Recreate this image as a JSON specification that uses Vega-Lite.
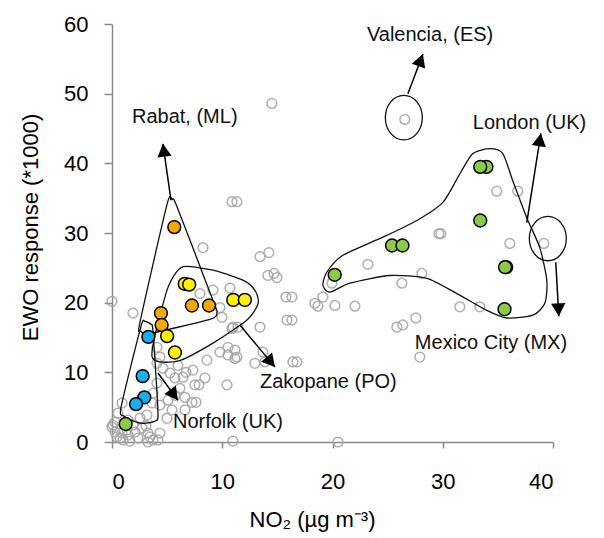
{
  "$schema": "https://vega.github.io/schema/vega-lite/v6.json",
  "width": 441,
  "height": 418,
  "autosize": {"type": "none"},
  "padding": {"left": 112, "top": 24, "right": 51, "bottom": 96},
  "background": "white",
  "config": {
    "view": {"stroke": null},
    "axis": {
      "grid": false,
      "domainColor": "#8a8a8a",
      "tickColor": "#8a8a8a",
      "domainWidth": 1.5,
      "tickWidth": 1.5,
      "labelFont": "Liberation Sans",
      "titleFont": "Liberation Sans",
      "labelColor": "#000000",
      "titleColor": "#000000",
      "labelFontSize": 22,
      "titleFontSize": 22,
      "titleFontWeight": "normal"
    }
  },
  "datasets": {
    "gray": [
      {"x": 0.0, "y": 20.2}, {"x": 14.5, "y": 48.6}, {"x": 26.56, "y": 46.3},
      {"x": 10.88, "y": 34.5}, {"x": 11.33, "y": 34.5}, {"x": 8.25, "y": 27.9}, {"x": 13.42, "y": 26.6}, {"x": 14.23, "y": 27.2},
      {"x": 14.14, "y": 23.9}, {"x": 14.69, "y": 24.2}, {"x": 14.96, "y": 23.6},
      {"x": 15.78, "y": 20.8}, {"x": 16.32, "y": 20.8}, {"x": 15.87, "y": 17.5}, {"x": 16.32, "y": 17.5},
      {"x": 9.97, "y": 17.9}, {"x": 9.16, "y": 21.8}, {"x": 10.7, "y": 22.1}, {"x": 7.98, "y": 21.3}, {"x": 9.79, "y": 19.3},
      {"x": 10.97, "y": 16.5}, {"x": 13.42, "y": 16.5}, {"x": 10.88, "y": 16.3}, {"x": 11.42, "y": 16.5},
      {"x": 9.79, "y": 12.9}, {"x": 10.52, "y": 12.5}, {"x": 11.33, "y": 12.2}, {"x": 11.15, "y": 13.2}, {"x": 10.52, "y": 13.6}, {"x": 11.15, "y": 12.0},
      {"x": 8.61, "y": 11.75}, {"x": 7.34, "y": 10.3}, {"x": 13.87, "y": 11.5}, {"x": 16.77, "y": 11.5}, {"x": 16.41, "y": 11.5}, {"x": 13.69, "y": 12.9}, {"x": 12.96, "y": 11.3},
      {"x": 27.92, "y": 12.2},
      {"x": 18.4, "y": 19.9}, {"x": 19.13, "y": 20.8}, {"x": 20.22, "y": 19.6}, {"x": 22.03, "y": 19.5}, {"x": 19.95, "y": 22.8}, {"x": 18.68, "y": 19.5},
      {"x": 23.21, "y": 25.5}, {"x": 26.29, "y": 22.8}, {"x": 28.1, "y": 24.2}, {"x": 29.65, "y": 29.9}, {"x": 29.83, "y": 29.9},
      {"x": 34.9, "y": 36.0}, {"x": 36.8, "y": 36.0}, {"x": 36.08, "y": 28.5}, {"x": 39.17, "y": 28.5},
      {"x": 31.55, "y": 19.4}, {"x": 33.36, "y": 19.4}, {"x": 27.56, "y": 17.8}, {"x": 25.84, "y": 16.5}, {"x": 26.38, "y": 16.8},
      {"x": 20.5, "y": 0.0}, {"x": 10.97, "y": 0.14},
      {"x": 4.62, "y": 10.6}, {"x": 5.26, "y": 9.9}, {"x": 5.71, "y": 9.2}, {"x": 6.44, "y": 9.3}, {"x": 7.52, "y": 8.2}, {"x": 7.89, "y": 8.2}, {"x": 10.43, "y": 8.2},
      {"x": 6.16, "y": 7.7}, {"x": 6.62, "y": 6.4}, {"x": 7.25, "y": 5.7}, {"x": 7.62, "y": 5.7}, {"x": 5.44, "y": 4.6}, {"x": 4.99, "y": 3.4},
      {"x": 0.91, "y": 5.6}, {"x": 0.54, "y": 4.15}, {"x": 0.27, "y": 2.87}, {"x": 0.0, "y": 2.15}, {"x": 0.27, "y": 1.43}, {"x": 0.91, "y": 1.29},
      {"x": 1.45, "y": 1.0}, {"x": 2.09, "y": 1.43}, {"x": 2.72, "y": 2.0}, {"x": 3.08, "y": 2.3}, {"x": 2.36, "y": 0.57}, {"x": 1.0, "y": 0.29},
      {"x": 3.72, "y": 0.29}, {"x": 4.17, "y": 0.29}, {"x": 3.26, "y": 1.29}, {"x": 1.9, "y": 2.44}, {"x": 0.45, "y": 0.72}, {"x": 1.63, "y": 0.14}, {"x": 3.26, "y": 0.0},
      {"x": 4.08, "y": 11.3}, {"x": 4.08, "y": 8.45}, {"x": 3.72, "y": 7.0}, {"x": 3.63, "y": 5.6}, {"x": 3.17, "y": 3.87}, {"x": 0.09, "y": 2.44},
      {"x": 1.9, "y": 18.5}, {"x": 4.08, "y": 13.6},
      {"x": 4.35, "y": 12.2}, {"x": 5.98, "y": 11.0}, {"x": 6.71, "y": 10.0}, {"x": 8.43, "y": 9.2}, {"x": 5.71, "y": 6.7}, {"x": 5.08, "y": 6.0},
      {"x": 4.35, "y": 5.3}, {"x": 6.62, "y": 4.6},
      {"x": 1.45, "y": 3.15}, {"x": 2.54, "y": 3.44}, {"x": 3.45, "y": 0.72}, {"x": 4.35, "y": 1.29}, {"x": 1.36, "y": 1.72}, {"x": 0.73, "y": 0.57}
    ],
    "colored": [
      {"grp": "orange", "x": 5.65, "y": 30.85}, {"grp": "orange", "x": 7.25, "y": 19.6}, {"grp": "orange", "x": 8.8, "y": 19.6},
      {"grp": "orange", "x": 4.44, "y": 18.5}, {"grp": "orange", "x": 4.5, "y": 16.8},
      {"grp": "yellow", "x": 6.6, "y": 22.7}, {"grp": "yellow", "x": 7.0, "y": 22.6}, {"grp": "yellow", "x": 11.0, "y": 20.4},
      {"grp": "yellow", "x": 12.05, "y": 20.4}, {"grp": "yellow", "x": 5.0, "y": 15.2}, {"grp": "yellow", "x": 5.71, "y": 12.85},
      {"grp": "blue", "x": 3.3, "y": 15.1}, {"grp": "blue", "x": 2.78, "y": 9.46}, {"grp": "blue", "x": 2.93, "y": 6.4}, {"grp": "blue", "x": 2.18, "y": 5.44},
      {"grp": "green", "x": 1.24, "y": 2.58}, {"grp": "green", "x": 20.2, "y": 24.0}, {"grp": "green", "x": 25.4, "y": 28.2}, {"grp": "green", "x": 26.35, "y": 28.2},
      {"grp": "green", "x": 33.96, "y": 39.5}, {"grp": "green", "x": 33.4, "y": 39.5}, {"grp": "green", "x": 33.4, "y": 31.8},
      {"grp": "green", "x": 35.75, "y": 25.1}, {"grp": "green", "x": 35.65, "y": 25.1}, {"grp": "green", "x": 35.6, "y": 19.05}
    ],
    "shapes": [
      {"shape": "rabat", "seq": 1, "x": 4.99, "y": 34.1}, {"shape": "rabat", "seq": 2, "x": 5.44, "y": 34.8}, {"shape": "rabat", "seq": 3, "x": 5.89, "y": 33.8},
      {"shape": "rabat", "seq": 4, "x": 9.16, "y": 20.3}, {"shape": "rabat", "seq": 5, "x": 9.52, "y": 18.6}, {"shape": "rabat", "seq": 6, "x": 8.88, "y": 17.6},
      {"shape": "rabat", "seq": 7, "x": 3.45, "y": 15.6}, {"shape": "rabat", "seq": 8, "x": 2.63, "y": 15.9}, {"shape": "rabat", "seq": 9, "x": 2.54, "y": 17.2},
      {"shape": "zakopane", "seq": 1, "x": 5.89, "y": 24.5}, {"shape": "zakopane", "seq": 2, "x": 6.71, "y": 25.2}, {"shape": "zakopane", "seq": 3, "x": 9.34, "y": 24.6},
      {"shape": "zakopane", "seq": 4, "x": 12.06, "y": 23.1}, {"shape": "zakopane", "seq": 5, "x": 13.06, "y": 21.5}, {"shape": "zakopane", "seq": 6, "x": 13.24, "y": 19.8},
      {"shape": "zakopane", "seq": 7, "x": 12.24, "y": 17.5}, {"shape": "zakopane", "seq": 8, "x": 9.16, "y": 14.2}, {"shape": "zakopane", "seq": 9, "x": 6.16, "y": 11.7},
      {"shape": "zakopane", "seq": 10, "x": 4.35, "y": 11.5}, {"shape": "zakopane", "seq": 11, "x": 3.63, "y": 12.3}, {"shape": "zakopane", "seq": 12, "x": 3.9, "y": 15.3},
      {"shape": "zakopane", "seq": 13, "x": 4.99, "y": 21.8},
      {"shape": "norfolk", "seq": 1, "x": 2.63, "y": 16.6}, {"shape": "norfolk", "seq": 2, "x": 2.99, "y": 17.3}, {"shape": "norfolk", "seq": 3, "x": 3.54, "y": 16.9},
      {"shape": "norfolk", "seq": 4, "x": 3.72, "y": 15.8}, {"shape": "norfolk", "seq": 5, "x": 4.17, "y": 4.3}, {"shape": "norfolk", "seq": 6, "x": 3.9, "y": 3.0},
      {"shape": "norfolk", "seq": 7, "x": 2.54, "y": 2.7}, {"shape": "norfolk", "seq": 8, "x": 1.09, "y": 3.7}, {"shape": "norfolk", "seq": 9, "x": 0.82, "y": 5.0},
      {"shape": "london", "seq": 1, "x": 19.13, "y": 22.5}, {"shape": "london", "seq": 2, "x": 19.49, "y": 24.4}, {"shape": "london", "seq": 3, "x": 20.94, "y": 26.8},
      {"shape": "london", "seq": 4, "x": 24.57, "y": 29.4}, {"shape": "london", "seq": 5, "x": 27.65, "y": 31.8}, {"shape": "london", "seq": 6, "x": 30.01, "y": 34.4},
      {"shape": "london", "seq": 7, "x": 31.55, "y": 38.5}, {"shape": "london", "seq": 8, "x": 32.73, "y": 41.4}, {"shape": "london", "seq": 9, "x": 34.27, "y": 42.1},
      {"shape": "london", "seq": 10, "x": 35.45, "y": 41.4}, {"shape": "london", "seq": 11, "x": 36.35, "y": 37.5}, {"shape": "london", "seq": 12, "x": 37.62, "y": 32.2},
      {"shape": "london", "seq": 13, "x": 38.8, "y": 27.9}, {"shape": "london", "seq": 14, "x": 39.44, "y": 23.2}, {"shape": "london", "seq": 15, "x": 39.26, "y": 19.9},
      {"shape": "london", "seq": 16, "x": 38.17, "y": 18.2}, {"shape": "london", "seq": 17, "x": 35.81, "y": 17.8}, {"shape": "london", "seq": 18, "x": 34.0, "y": 18.9},
      {"shape": "london", "seq": 19, "x": 31.28, "y": 21.3}, {"shape": "london", "seq": 20, "x": 28.56, "y": 23.5}, {"shape": "london", "seq": 21, "x": 25.2, "y": 23.9},
      {"shape": "london", "seq": 22, "x": 21.58, "y": 22.8}, {"shape": "london", "seq": 23, "x": 19.76, "y": 21.5}
    ],
    "ellipses": [
      {"name": "valencia", "x": 26.47, "y": 46.56},
      {"name": "outlier", "x": 39.53, "y": 29.2}
    ],
    "arrows": [
      {"arrow": "rabat", "seq": 1, "x": 5.35, "y": 34.7}, {"arrow": "rabat", "seq": 2, "x": 4.62, "y": 42.8},
      {"arrow": "valencia", "seq": 1, "x": 26.84, "y": 50.0}, {"arrow": "valencia", "seq": 2, "x": 28.2, "y": 55.7},
      {"arrow": "london", "seq": 1, "x": 37.62, "y": 31.5}, {"arrow": "london", "seq": 2, "x": 38.9, "y": 44.3},
      {"arrow": "mexico", "seq": 1, "x": 40.25, "y": 25.8}, {"arrow": "mexico", "seq": 2, "x": 40.53, "y": 18.05},
      {"arrow": "zakopane", "seq": 1, "x": 11.6, "y": 16.8}, {"arrow": "zakopane", "seq": 2, "x": 14.78, "y": 10.75},
      {"arrow": "norfolk", "seq": 1, "x": 4.17, "y": 9.9}, {"arrow": "norfolk", "seq": 2, "x": 5.98, "y": 6.0}
    ],
    "heads": [
      {"arrow": "rabat", "x": 4.62, "y": 42.8, "dir": -7},
      {"arrow": "valencia", "x": 28.2, "y": 55.7, "dir": 20},
      {"arrow": "london", "x": 38.9, "y": 44.3, "dir": 9},
      {"arrow": "mexico", "x": 40.53, "y": 18.05, "dir": 177},
      {"arrow": "zakopane", "x": 14.78, "y": 10.75, "dir": 140},
      {"arrow": "norfolk", "x": 5.98, "y": 6.0, "dir": 143}
    ],
    "labels": [
      {"label": "Valencia, (ES)", "x": 23.12, "y": 58.45},
      {"label": "Rabat, (ML)", "x": 1.81, "y": 46.6},
      {"label": "London (UK)", "x": 32.73, "y": 45.85},
      {"label": "Zakopane (PO)", "x": 13.42, "y": 8.6},
      {"label": "Norfolk (UK)", "x": 5.53, "y": 2.87},
      {"label": "Mexico City (MX)", "x": 27.47, "y": 14.18}
    ]
  },
  "encoding": {
    "x": {
      "field": "x", "type": "quantitative",
      "scale": {"domain": [0, 40], "nice": false, "zero": false},
      "axis": {"values": [0, 10, 20, 30, 40], "tickSize": 6, "labelPadding": 23, "title": "NO₂ (µg m⁻³)", "titleX": 200, "titleY": 77, "titleBaseline": "middle", "titleAlign": "center"}
    },
    "y": {
      "field": "y", "type": "quantitative",
      "scale": {"domain": [0, 60], "nice": false, "zero": false},
      "axis": {"values": [0, 10, 20, 30, 40, 50, 60], "tickSize": 8, "labelPadding": 16, "title": "EWO response (*1000)", "titleX": -82, "titleY": 203, "titleBaseline": "middle", "titleAlign": "center", "titleAngle": -90}
    }
  },
  "layer": [
    {
      "data": {"name": "gray"},
      "mark": {"type": "point", "shape": "circle", "filled": false, "stroke": "#a3a3a3", "strokeWidth": 1.5, "size": 95, "opacity": 0.85, "clip": false}
    },
    {
      "data": {"name": "shapes"},
      "mark": {"type": "line", "interpolate": "cardinal-closed", "tension": 0.3, "color": "#111111", "strokeWidth": 1.3},
      "encoding": {"detail": {"field": "shape"}, "order": {"field": "seq", "type": "quantitative"}}
    },
    {
      "data": {"name": "ellipses"},
      "mark": {"type": "point", "shape": "M-1,0A1,1.2,0,1,1,1,0A1,1.2,0,1,1,-1,0Z", "filled": false, "stroke": "#111111", "strokeWidth": 1.3, "size": 1369, "opacity": 1}
    },
    {
      "data": {"name": "colored"},
      "mark": {"type": "point", "shape": "circle", "filled": true, "stroke": "#000000", "strokeWidth": 1.5, "size": 165, "opacity": 1},
      "encoding": {
        "color": {"field": "grp", "type": "nominal", "scale": {"domain": ["orange", "yellow", "blue", "green"], "range": ["#F5A800", "#FFF200", "#1AAEEF", "#8CCB4A"]}, "legend": null}
      }
    },
    {
      "data": {"name": "arrows"},
      "mark": {"type": "line", "color": "#000000", "strokeWidth": 1.5},
      "encoding": {"detail": {"field": "arrow"}, "order": {"field": "seq", "type": "quantitative"}}
    },
    {
      "data": {"name": "heads"},
      "mark": {"type": "point", "shape": "M0,0L0.55,1L-0.55,1Z", "filled": true, "color": "#000000", "size": 676, "opacity": 1},
      "encoding": {"angle": {"field": "dir", "type": "quantitative", "scale": null}}
    },
    {
      "data": {"name": "labels"},
      "mark": {"type": "text", "align": "left", "baseline": "middle", "font": "Liberation Sans", "fontSize": 20, "color": "#111111"},
      "encoding": {"text": {"field": "label"}}
    }
  ]
}
